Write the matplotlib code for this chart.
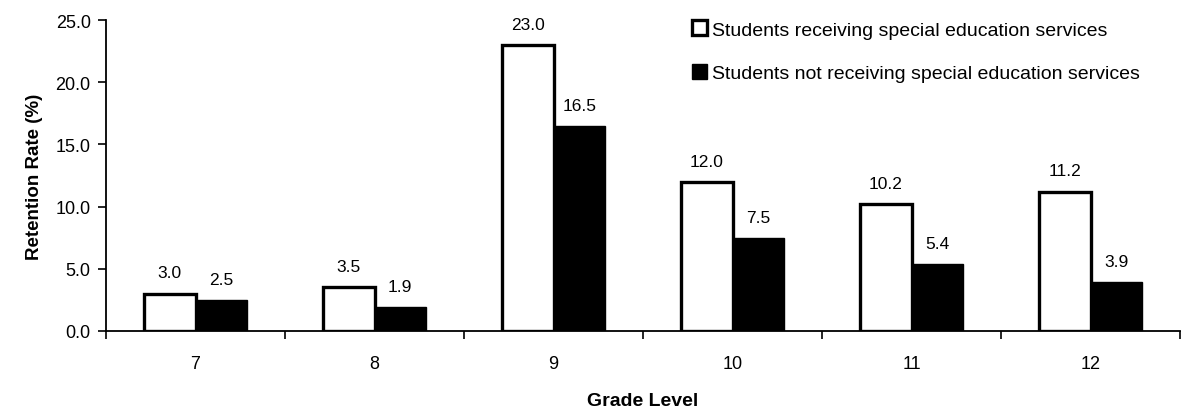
import matplotlib
matplotlib.use("Agg")
import matplotlib.pyplot as plt
import numpy as np

grades = ["7", "8", "9", "10", "11", "12"]
special = [3.0, 3.5, 23.0, 12.0, 10.2, 11.2]
not_special = [2.5, 1.9, 16.5, 7.5, 5.4, 3.9]
series_labels = ["Students receiving special education services",
                 "Students not receiving special education services"]

plt.rcParams['font.family'] = ['Liberation Sans', 'DejaVu Sans']

fig = plt.figure(figsize=(11.97, 4.10), dpi=100)
ax = fig.add_axes([106/1197, 78/410, (1180-106)/1197, (332-21)/410])

x = np.arange(len(grades))
w = 0.288
b1 = ax.bar(x - w/2, special, w, color='white', edgecolor='black', linewidth=2.4,
            label=series_labels[0])
b2 = ax.bar(x + w/2, not_special, w, color='black', edgecolor='black', linewidth=1,
            label=series_labels[1])

for rect, v in zip(b1, special):
    ax.annotate(f"{v:.1f}", (rect.get_x() + rect.get_width()/2, v), xytext=(0, 9.5),
                textcoords='offset points', ha='center', va='bottom', fontsize=12.5)
for rect, v in zip(b2, not_special):
    ax.annotate(f"{v:.1f}", (rect.get_x() + rect.get_width()/2, v), xytext=(0, 9.5),
                textcoords='offset points', ha='center', va='bottom', fontsize=12.5)

ax.set_xlim(-0.5, len(grades) - 0.5)
ax.set_ylim(0, 25)
ax.set_yticks(np.arange(0, 25.1, 5))
ax.set_yticklabels([f"{t:.1f}" for t in np.arange(0, 25.1, 5)], fontsize=13)
ax.set_xticks(x)
ax.set_xticklabels(grades, fontsize=13)
ax.set_xticks(np.arange(-0.5, len(grades) - 0.4, 1), minor=True)
ax.tick_params(axis='x', which='major', length=0, pad=17)
ax.tick_params(axis='x', which='minor', length=6, width=1.2, direction='out')
ax.tick_params(axis='y', length=6, width=1.2, direction='out', pad=5)

for s in ['top', 'right']:
    ax.spines[s].set_visible(False)
for s in ['left', 'bottom']:
    ax.spines[s].set_linewidth(1.3)

ax.set_ylabel("Retention Rate (%)", fontsize=13.5, fontweight='bold', labelpad=9)
ax.set_xlabel("Grade Level", fontsize=14, fontweight='bold', labelpad=15)

leg = ax.legend(loc='upper right', bbox_to_anchor=(0.979, 1.055), frameon=False,
                fontsize=14, handlelength=0.8, handleheight=0.8,
                handletextpad=0.25, labelspacing=1.3)

fig.savefig("out.png", dpi=100)
